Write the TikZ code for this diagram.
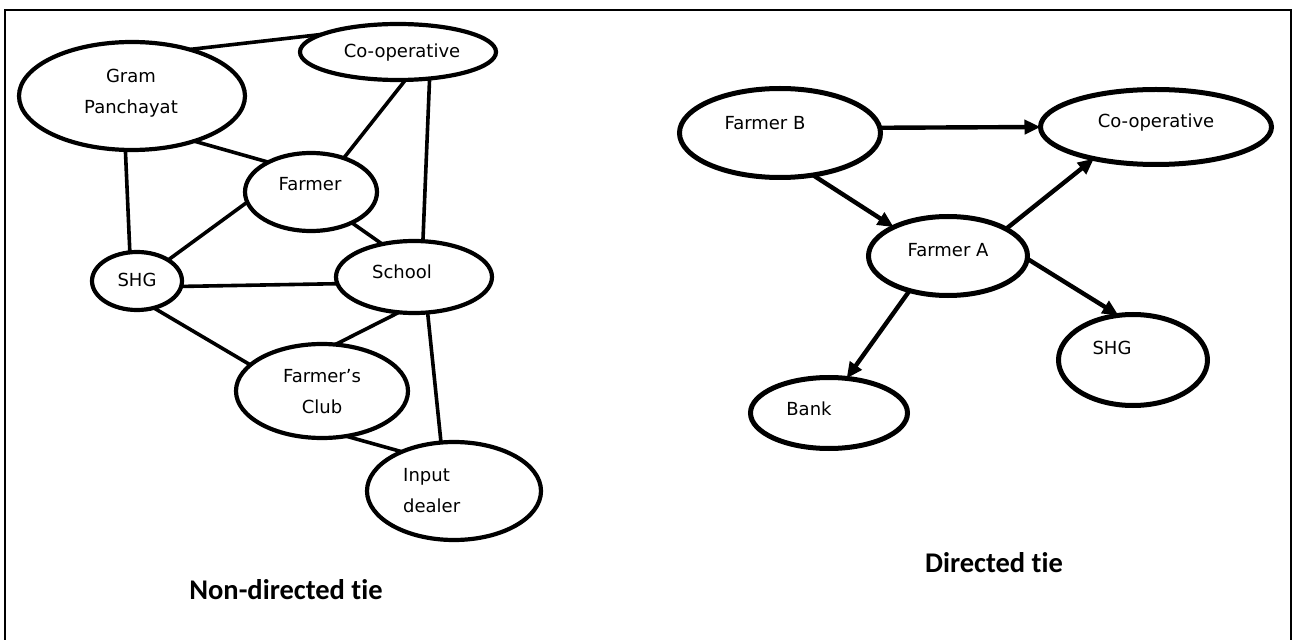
\documentclass[tikz,border=0pt]{standalone}
\usepackage{fontspec}
\setmainfont{DejaVu Sans}
\newfontfamily\titlefont[Ligatures=NoCommon]{Carlito}
\usetikzlibrary{shapes.geometric,arrows.meta}
\begin{document}
\begin{tikzpicture}[x=1bp,y=-1bp,
  ell/.style={ellipse,draw,line width=4.2bp,inner sep=0pt,outer sep=0pt},
  bigell/.style={ell,line width=5bp},
  lab/.style={inner sep=0pt,font=\fontsize{18bp}{31bp}\selectfont,align=center},
  tie/.style={line width=3.6bp},
  dtie/.style={line width=4.4bp,-{Triangle[length=16bp,width=14bp]}},
  title/.style={inner sep=0pt,font=\titlefont\bfseries\fontsize{28.5bp}{34bp}\selectfont}]
\useasboundingbox (0,0) rectangle (1293,640);
\fill[white] (0,0) rectangle (1293,640);
% outer frame
\draw[line width=1.6bp] (5,640) -- (5,10) -- (1291,10) -- (1291,640);

% ---- non-directed network ----
\node[ell,minimum width=226bp,minimum height=108bp] (gp) at (132,96) {};
\node[ell,minimum width=196bp,minimum height=56bp] (coopL) at (398,52) {};
\node[ell,minimum width=132bp,minimum height=78bp] (farmer) at (311,192) {};
\node[ell,minimum width=90bp,minimum height=58bp] (shgL) at (137,281) {};
\node[ell,minimum width=156bp,minimum height=72bp] (school) at (414,277) {};
\node[ell,minimum width=172bp,minimum height=94bp] (club) at (322,391) {};
\node[ell,minimum width=174bp,minimum height=98bp] (input) at (454,491) {};

\node[lab] (gpt) at (131,93) {Gram\\Panchayat};
\node[lab] (coopLt) at (402,53) {Co-operative};
\node[lab] (farmert) at (310,184) {Farmer};
\node[lab] (shgLt) at (137,280) {SHG};
\node[lab] (schoolt) at (402,272) {School};
\node[lab] (clubt) at (322,392) {Farmer’s\\Club};
\node[lab,align=left,anchor=west] (inputt) at (403,491) {Input\\dealer};

\draw[tie] (gp.39) -- (coopL.167);
\draw[tie] (gp.324) -- (farmer.145);
\draw[tie] (gp.263) -- (shgL.104);
\draw[tie] (coopL.285) -- (farmer.46);
\draw[tie] (coopL.320) -- (school.76);
\draw[tie] (farmer.323) -- (school.134);
\draw[tie] (farmer.189) -- (shgL.34);
\draw[tie] (shgL.353) -- (school.185);
\draw[tie] (shgL.302) -- (club.160);
\draw[tie] (school.247) -- (club.74);
\draw[tie] (school.291) -- (input.105);
\draw[tie] (club.298) -- (input.143);

\node[title] (ndt) at (286,590) {Non-directed tie};

% ---- directed network ----
\node[bigell,minimum width=201bp,minimum height=89bp] (fb) at (780,133) {};
\node[bigell,minimum width=159bp,minimum height=79bp] (fa) at (948,256) {};
\node[bigell,minimum width=231bp,minimum height=75bp] (coopR) at (1156,127) {};
\node[bigell,minimum width=149bp,minimum height=91bp] (shgR) at (1133,360) {};
\node[bigell,minimum width=157bp,minimum height=71bp] (bank) at (829,413) {};

\node[lab] (fbt) at (765,123) {Farmer B};
\node[lab] (fat) at (948,250) {Farmer A};
\node[lab] (coopRt) at (1156,123) {Co-operative};
\node[lab] (shgRt) at (1112,348) {SHG};
\node[lab] (bankt) at (809,409) {Bank};

\draw[dtie] (fb.3) -- (coopR.180);
\draw[dtie] (fb.308) -- (fa.152);
\draw[dtie] (fa.25) -- (coopR.207);
\draw[dtie] (fa.358) -- (shgR.108);
\draw[dtie] (fa.222) -- (bank.63);

\node[title] (dt) at (994,563) {Directed tie};
\end{tikzpicture}
\end{document}
